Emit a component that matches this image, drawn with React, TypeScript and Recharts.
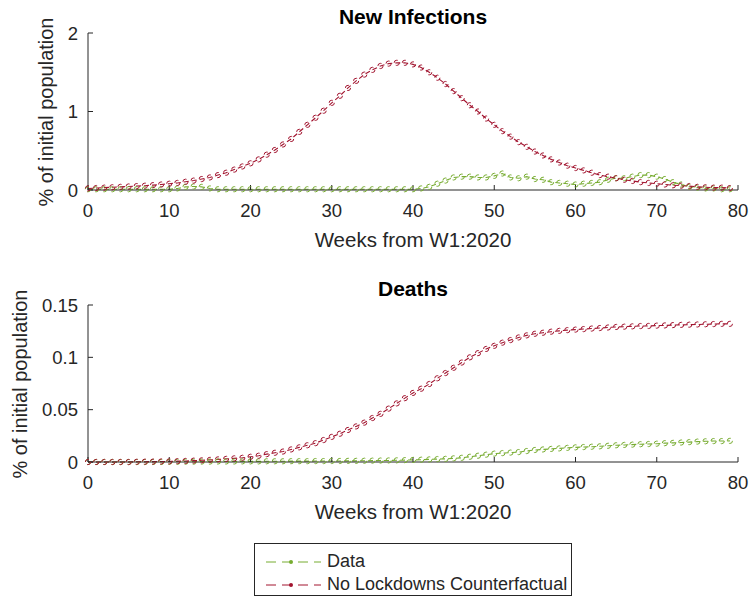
import React from 'react';
import { LineChart, Line, XAxis, YAxis } from 'recharts';

// weeks from W1:2020
const WEEKS = Array.from({ length: 80 }, (_, i) => i);

const INFECTIONS_DATA = [
  0.01, 0.01, 0.01, 0.01, 0.01, 0.01, 0.01, 0.01, 0.01, 0.01,
  0.01, 0.02, 0.04, 0.045, 0.04, 0.02, 0.01, 0.01, 0.01, 0.01,
  0.01, 0.01, 0.01, 0.01, 0.01, 0.01, 0.01, 0.01, 0.01, 0.01,
  0.01, 0.01, 0.01, 0.01, 0.01, 0.01, 0.01, 0.01, 0.01, 0.01,
  0.01, 0.02, 0.04, 0.08, 0.12, 0.16, 0.17, 0.17, 0.16, 0.16,
  0.18, 0.21, 0.16, 0.15, 0.17, 0.14, 0.13, 0.1, 0.09, 0.08,
  0.07, 0.08, 0.09, 0.1, 0.13, 0.15, 0.15, 0.17, 0.19, 0.19,
  0.17, 0.14, 0.1, 0.07, 0.04, 0.03, 0.02, 0.02, 0.01, 0.01,
];

const INFECTIONS_NOLOCK = [
  0.02, 0.025, 0.03, 0.035, 0.04, 0.045, 0.05, 0.055, 0.062, 0.07,
  0.08, 0.09, 0.105, 0.12, 0.14, 0.16, 0.19, 0.22, 0.26, 0.3,
  0.34, 0.39, 0.45, 0.51, 0.58, 0.65, 0.74, 0.83, 0.92, 1.01,
  1.11, 1.2, 1.3, 1.39, 1.47, 1.53, 1.58, 1.61, 1.62, 1.62,
  1.6, 1.56, 1.5, 1.43, 1.35, 1.26, 1.17, 1.08, 1.0, 0.91,
  0.83, 0.75, 0.68, 0.61, 0.55, 0.49, 0.44, 0.39, 0.35, 0.31,
  0.28, 0.25, 0.22, 0.19, 0.17, 0.15, 0.13, 0.115, 0.1, 0.09,
  0.08, 0.07, 0.06, 0.055, 0.05, 0.04, 0.035, 0.03, 0.03, 0.025,
];

const DEATHS_DATA = [
  0, 0, 0, 0, 0, 0, 0, 0, 0, 0,
  0.0002, 0.0002, 0.0003, 0.0003, 0.0004, 0.0004, 0.0005, 0.0005, 0.0005, 0.0006,
  0.0006, 0.0006, 0.0007, 0.0007, 0.0007, 0.0008, 0.0008, 0.0008, 0.0009, 0.0009,
  0.001, 0.001, 0.0011, 0.0011, 0.0012, 0.0013, 0.0014, 0.0015, 0.0016, 0.0018,
  0.002, 0.0022, 0.0025, 0.0028, 0.003, 0.0035, 0.004, 0.005, 0.006, 0.007,
  0.008, 0.0085, 0.009, 0.0095, 0.0105, 0.0115, 0.012, 0.0125, 0.013, 0.0135,
  0.014, 0.0143, 0.0146, 0.015, 0.0155, 0.016, 0.0163, 0.0166, 0.017, 0.0172,
  0.0175, 0.018, 0.0183, 0.0186, 0.019, 0.0195, 0.0198, 0.02, 0.02, 0.0202,
];

const DEATHS_NOLOCK = [
  0, 0, 0, 0, 0, 0, 0.0002, 0.0003, 0.0004, 0.0005,
  0.0006, 0.0008, 0.001, 0.0013, 0.0016, 0.002, 0.0025, 0.003, 0.0035, 0.004,
  0.005, 0.006, 0.0075, 0.0088, 0.01, 0.012, 0.014, 0.016, 0.018, 0.021,
  0.024, 0.027, 0.0306, 0.034, 0.0376, 0.042, 0.046, 0.051, 0.056, 0.061,
  0.066, 0.07, 0.0745, 0.08, 0.085, 0.09, 0.095, 0.1, 0.104, 0.108,
  0.111, 0.114, 0.1165, 0.119, 0.121, 0.1225, 0.1235, 0.1245, 0.1253, 0.126,
  0.1265, 0.127, 0.1275, 0.128, 0.1285, 0.129, 0.1293, 0.1296, 0.1299, 0.13,
  0.1303, 0.1305, 0.1308, 0.131, 0.1312, 0.1314, 0.1316, 0.1318, 0.132, 0.132,
];

const X_TICKS = [0, 10, 20, 30, 40, 50, 60, 70, 80];
const INFECTIONS_TICKS = [0, 1, 2];
const DEATHS_TICKS = [0, 0.05, 0.1, 0.15];

const GREEN = '#77AC30';
const RED = '#A2142F';
const AXIS = '#262626';
const FONT = '"Liberation Sans", Arial, Helvetica, sans-serif';

const infectionsRows = WEEKS.map((w, i) => ({ week: w, data: INFECTIONS_DATA[i], nolock: INFECTIONS_NOLOCK[i] }));
const deathsRows = WEEKS.map((w, i) => ({ week: w, data: DEATHS_DATA[i], nolock: DEATHS_NOLOCK[i] }));

interface PanelProps {
  title: string;
  rows: { week: number; data: number; nolock: number }[];
  yMax: number;
  yTicks: number[];
  top: number;
  yLabelX: number;
}

const Panel: React.FC<PanelProps> = ({ title, rows, yMax, yTicks, top, yLabelX }) => {
  const tickStyle = { fill: AXIS, fontSize: 18.5, fontFamily: FONT };
  const dot = (color: string) => ({ r: 2.6, fill: 'none', stroke: color, strokeWidth: 1 });
  return (
    <div style={{ position: 'absolute', left: 0, top, width: 753, height: 270 }}>
      <LineChart width={753} height={270} data={rows} margin={{ top: 33, right: 15, bottom: 20, left: 0 }}>
        <XAxis
          dataKey="week" type="number" domain={[0, 80]} ticks={X_TICKS} interval={0}
          stroke={AXIS} tick={tickStyle} tickSize={-5} tickMargin={19} height={60}
        />
        <YAxis
          type="number" domain={[0, yMax]} ticks={yTicks} interval={0} width={88}
          stroke={AXIS} tick={tickStyle} tickSize={-5} tickMargin={15}
        />
        <Line dataKey="data" stroke={GREEN} strokeWidth={1.1} strokeDasharray="5 3" dot={dot(GREEN)} isAnimationActive={false} />
        <Line dataKey="nolock" stroke={RED} strokeWidth={1.1} strokeDasharray="5 3" dot={dot(RED)} isAnimationActive={false} />
      </LineChart>
      <div style={{ position: 'absolute', left: 88, width: 650, top: 5, textAlign: 'center', fontFamily: FONT, fontWeight: 'bold', fontSize: 21, color: '#000' }}>
        {title}
      </div>
      <div style={{ position: 'absolute', left: 88, width: 650, top: 228, textAlign: 'center', fontFamily: FONT, fontSize: 20.5, color: AXIS }}>
        Weeks from W1:2020
      </div>
      <div style={{ position: 'absolute', left: yLabelX - 120, top: 111.5 - 12, width: 240, height: 24, lineHeight: '24px', textAlign: 'center', transform: 'rotate(-90deg)', fontFamily: FONT, fontSize: 20, color: AXIS }}>
        % of initial population
      </div>
    </div>
  );
};

const LegendRow: React.FC<{ color: string; label: string }> = ({ color, label }) => (
  <div style={{ display: 'flex', alignItems: 'center', height: 23 }}>
    <svg width={70} height={10} style={{ marginLeft: 8 }}>
      <line x1={3} y1={5} x2={58} y2={5} stroke={color} strokeWidth={1} strokeDasharray="10 6" />
      <circle cx={28} cy={5} r={2} fill={color} />
    </svg>
    <span style={{ marginLeft: -6, fontFamily: FONT, fontSize: 18, color: AXIS }}>{label}</span>
  </div>
);

export default function App() {
  return (
    <div style={{ position: 'absolute', left: 0, top: 0, width: 753, height: 598, background: '#fff' }}>
      <Panel title="New Infections" rows={infectionsRows} yMax={2} yTicks={INFECTIONS_TICKS} top={0} yLabelX={46} />
      <Panel title="Deaths" rows={deathsRows} yMax={0.15} yTicks={DEATHS_TICKS} top={272} yLabelX={20} />
      <div style={{ position: 'absolute', left: 254, top: 543, width: 318, height: 53, border: `1px solid ${AXIS}`, background: '#fff', paddingTop: 6, boxSizing: 'border-box' }}>
        <LegendRow color={GREEN} label="Data" />
        <LegendRow color={RED} label="No Lockdowns Counterfactual" />
      </div>
    </div>
  );
}
